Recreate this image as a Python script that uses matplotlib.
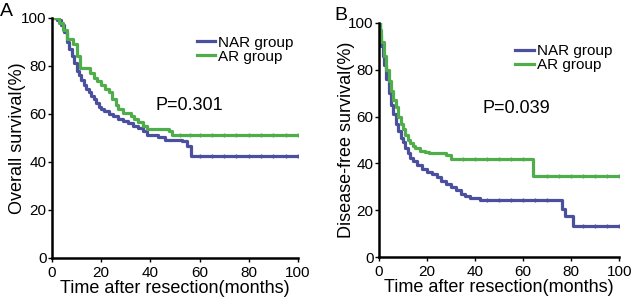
import matplotlib as mpl
mpl.use('agg')
import matplotlib.pyplot as plt

plt.rcParams['font.family'] = ['Liberation Sans', 'DejaVu Sans']

# Panel A: overall survival (months, %)
os_nar_t = [0, 2, 3.5, 5, 6, 7, 8, 9, 10, 11, 12, 13, 14, 15, 16, 17, 18, 19, 20, 21,
            23, 25, 27, 29, 31, 33, 35, 37, 38.5, 43, 46, 53, 55, 56.5, 100]
os_nar_s = [100, 99, 97, 94, 90, 87, 84, 81, 78, 76, 74, 72, 70.5, 69, 67.5, 66, 64.5, 63, 62, 61,
            60, 59, 58, 57, 56, 55, 54, 53, 51, 50.5, 49.3, 48.5, 46.5, 42.4, 42.4]
os_ar_t = [0, 3, 4.5, 6, 8.5, 10, 11.4, 15.5, 17, 18.5, 20, 21.5, 23, 24.5, 26, 27, 29,
           32, 33.5, 35, 37, 38.5, 47.5, 49, 100]
os_ar_s = [100, 98, 95, 91, 89, 84, 79, 77, 75, 73.5, 72, 70.5, 69, 66, 63.5, 62, 60.5,
           59, 58, 56.5, 55, 53.5, 53, 51.4, 51.4]
os_nar_cens = [60, 65, 70, 75, 80, 85, 90, 95, 100]
os_ar_cens = [52, 56, 60, 65, 70, 75, 80, 85, 90, 95, 100]

# Panel B: disease-free survival
dfs_nar_t = [0, 0.5, 1, 1.5, 2, 3, 4, 5, 6, 7, 8, 9, 10, 11, 12, 13, 14, 16, 18, 20, 22, 24,
             26, 28, 30, 32, 34, 36, 38, 42, 76.2, 77.3, 80.8, 100]
dfs_nar_s = [100, 95, 90, 86, 82, 76, 70, 65, 61, 57, 54, 51, 49, 46.5, 44.5, 42.5, 41, 39.5,
             37.5, 36.5, 35.5, 34, 32.5, 31, 30, 28.5, 27, 26.2, 25.2, 24.2, 20.7, 17.5, 13.1, 13.1]
dfs_ar_t = [0, 0.5, 1, 2, 3, 4, 5, 6, 7, 8, 9, 10, 11, 12, 13, 14, 15, 17, 19, 21, 28, 30,
            64.2, 100]
dfs_ar_s = [100, 97, 92, 86, 80, 75, 71, 67, 64, 60, 57, 54.5, 52, 50, 48.5, 47.5, 46.5, 45.5,
            45, 44.5, 43.5, 42, 34.6, 34.6]
dfs_nar_cens = [45, 50, 55, 60, 65, 70, 85, 90, 95, 100]
dfs_ar_cens = [35, 40, 45, 50, 55, 60, 70, 75, 80, 85, 90, 95, 100]

blue = '#4a4f9e'
green = '#4fae4a'


def step_at(t, s, x):
    v = s[0]
    for ti, si in zip(t, s):
        if ti <= x:
            v = si
    return v


def km_panel(ax, nar_t, nar_s, ar_t, ar_s, nar_c, ar_c, ylab, ypad, ptext, ptxy, legxy):
    ax.step(nar_t, nar_s, where='post', color=blue, lw=2.3, label='NAR group')
    ax.step(ar_t, ar_s, where='post', color=green, lw=2.3, label='AR group')
    ax.plot(nar_c, [step_at(nar_t, nar_s, x) for x in nar_c], '|', color=blue, ms=3, mew=1)
    ax.plot(ar_c, [step_at(ar_t, ar_s, x) for x in ar_c], '|', color=green, ms=3, mew=1)
    ax.set_xlim(0, 100)
    ax.set_ylim(0, 100)
    ax.set_xticks([0, 20, 40, 60, 80, 100])
    ax.set_yticks([0, 20, 40, 60, 80, 100])
    for sp in ['top', 'right']:
        ax.spines[sp].set_visible(False)
    for sp in ['left', 'bottom']:
        ax.spines[sp].set_linewidth(1.8)
    ax.tick_params(labelsize=11, length=3, width=1, pad=1)
    ax.tick_params(axis='x', pad=3)
    ax.set_xlabel('Time after resection(months)', fontsize=13, labelpad=0)
    ax.set_ylabel(ylab, fontsize=13, labelpad=ypad)
    ax.text(ptxy[0], ptxy[1], ptext, fontsize=13, va='center', ha='left')
    ax.legend(loc='upper left', bbox_to_anchor=legxy, frameon=False, fontsize=11,
              handlelength=1.2, handletextpad=0.2, labelspacing=0.0, borderpad=0,
              borderaxespad=0)


fig = plt.figure(figsize=(6.37, 3.02), dpi=100)
axA = fig.add_axes([0.0816, 0.146, 0.386, 0.795])
axB = fig.add_axes([0.595, 0.149, 0.377, 0.775])

km_panel(axA, os_nar_t, os_nar_s, os_ar_t, os_ar_s, os_nar_cens, os_ar_cens,
         'Overall survival(%)', -4, 'P=0.301', (41.9, 63.3), (0.59, 0.925))
km_panel(axB, dfs_nar_t, dfs_nar_s, dfs_ar_t, dfs_ar_s, dfs_nar_cens, dfs_ar_cens,
         'Disease-free survival(%)', -5, 'P=0.039', (43.3, 63.5), (0.568, 0.91))

fig.text(0.0, 1 - 12 / 302, 'A', fontsize=14, va='center', ha='left')
fig.text(334 / 637, 1 - 15 / 302, 'B', fontsize=14, va='center', ha='left')

fig.savefig('out.png', dpi=100)
plt.close(fig)
